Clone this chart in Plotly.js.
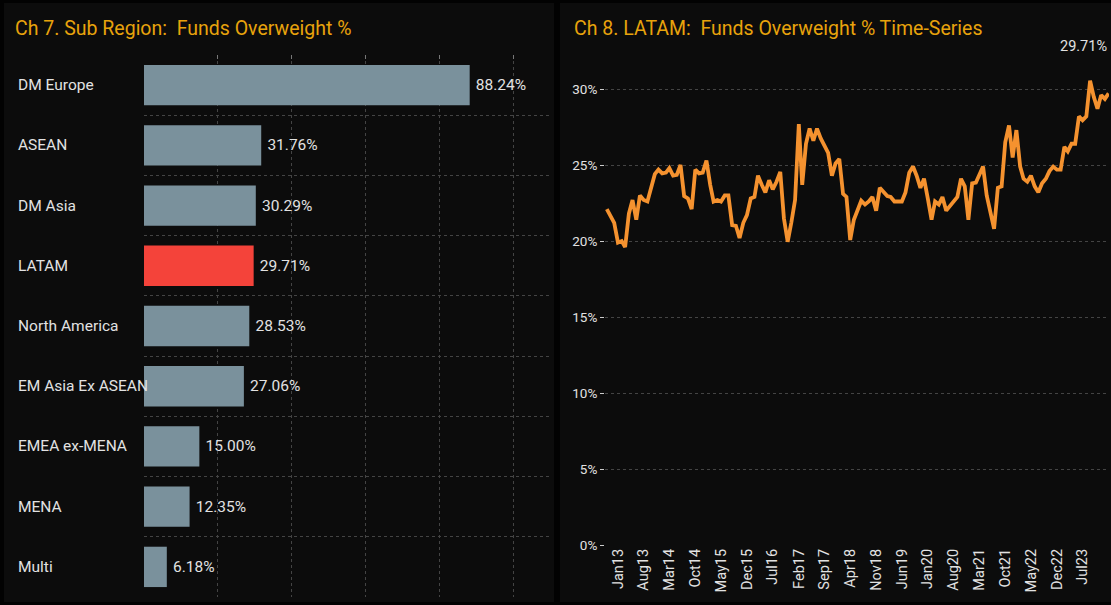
<!DOCTYPE html>
<html>
<head>
<meta charset="utf-8">
<script src="https://cdn.plot.ly/plotly-3.0.1.min.js"></script>
<style>
  html, body { margin: 0; padding: 0; background: #000; }
  #chart { width: 1111px; height: 605px; }
</style>
</head>
<body>
<div id="chart"></div>
<script>
// ---- Data: Ch 7 bar chart ----
const subRegions = ["DM Europe", "ASEAN", "DM Asia", "LATAM", "North America",
                    "EM Asia Ex ASEAN", "EMEA ex-MENA", "MENA", "Multi"];
const overweightPct = [88.24, 31.76, 30.29, 29.71, 28.53, 27.06, 15.00, 12.35, 6.18];
const highlightRegion = "LATAM";

// ---- Data: Ch 8 LATAM time series (monthly, Oct 2012 .. Feb 2024) ----
const seriesStart = [2012, 10]; // year, month of first observation
const latamOverweight = [
  22.1, 21.7, 21.2,                                                   // Oct12-Dec12
  19.9, 20.0, 19.6, 21.8, 22.7, 21.4, 23.0, 22.7, 22.6, 23.6, 24.4, 24.7, // 2013
  24.45, 24.5, 24.8, 24.3, 24.35, 25.0, 22.96, 22.8, 22.1, 24.7, 24.45, 24.5, // 2014
  25.3, 23.7, 22.6, 22.7, 22.6, 23.0, 23.0, 21.05, 21.0, 20.2, 21.2, 21.7, // 2015
  22.8, 22.9, 24.3, 23.7, 23.2, 24.0, 23.4, 23.9, 24.55, 21.5, 19.95, 21.2, // 2016
  22.7, 27.7, 23.7, 26.4, 27.4, 26.6, 27.4, 26.75, 26.2, 25.8, 24.3, 25.1, // 2017
  25.4, 23.1, 22.9, 20.07, 21.4, 22.0, 22.65, 22.4, 22.6, 22.9, 22.0, 23.5, // 2018
  23.2, 22.96, 22.9, 22.6, 22.6, 22.6, 23.2, 24.5, 24.9, 24.3, 23.5, 24.1, // 2019
  22.8, 21.4, 22.6, 22.4, 22.9, 22.0, 22.3, 22.6, 22.9, 24.1, 23.6, 21.4, // 2020
  23.8, 23.85, 24.3, 24.9, 23.0, 21.8, 20.8, 23.5, 23.6, 26.5, 27.6, 25.5, // 2021
  27.3, 24.9, 24.1, 23.9, 24.3, 23.6, 23.2, 23.8, 24.1, 24.6, 24.9, 24.7, // 2022
  24.7, 26.2, 25.9, 26.4, 26.4, 28.2, 27.95, 28.2, 30.55, 29.5, 28.7, 29.6, // 2023
  29.35, 29.71                                                        // Jan24-Feb24
];

// month labels for the series
const seriesDates = latamOverweight.map((_, i) => {
  const total = seriesStart[1] - 1 + i;
  const y = seriesStart[0] + Math.floor(total / 12);
  const m = (total % 12) + 1;
  return y + "-" + String(m).padStart(2, "0") + "-01";
});

// ---- Styling ----
const FONT = "Roboto, 'Noto Sans', 'DejaVu Sans', sans-serif";
const TITLE_COLOR = "#E8A30C";
const TEXT_COLOR = "#E2E2E2";
const GRID = "#444444";
const W = 1111, H = 605;
const px = x => x / W;
const py = y => (H - y) / H;

const barColors = subRegions.map(r => r === highlightRegion ? "#F4433A" : "#7A919C");

const barTrace = {
  type: "bar",
  orientation: "h",
  x: overweightPct,
  y: subRegions,
  xaxis: "x", yaxis: "y",
  marker: { color: barColors },
  width: 0.67,
  text: overweightPct.map(v => "\u2009" + v.toFixed(2) + "%"),
  textposition: "outside",
  textfont: { family: FONT, size: 15.5, color: TEXT_COLOR },
  cliponaxis: false,
  hoverinfo: "skip"
};

const lineTrace = {
  type: "scatter",
  mode: "lines",
  x: seriesDates,
  y: latamOverweight,
  xaxis: "x2", yaxis: "y2",
  line: { color: "#F5922F", width: 3.8 },
  hoverinfo: "skip"
};

const lastIdx = latamOverweight.length - 1;

const annotations = subRegions.map(r => ({
  xref: "paper", yref: "y",
  x: px(15.5), y: r,
  xanchor: "left", yanchor: "middle",
  text: r, showarrow: false,
  font: { family: FONT, size: 15.5, color: TEXT_COLOR }
}));
annotations.push({
  xref: "paper", yref: "paper", x: px(12.5), y: py(28),
  xanchor: "left", yanchor: "middle", showarrow: false,
  text: "Ch 7. Sub Region:  Funds Overweight %",
  font: { family: FONT, size: 19.5, color: TITLE_COLOR }
});
annotations.push({
  xref: "paper", yref: "paper", x: px(571.5), y: py(28),
  xanchor: "left", yanchor: "middle", showarrow: false,
  text: "Ch 8. LATAM:  Funds Overweight % Time-Series",
  font: { family: FONT, size: 19.5, color: TITLE_COLOR }
});
annotations.push({
  xref: "x2", yref: "paper",
  x: seriesDates[lastIdx], y: py(47),
  xanchor: "right", yanchor: "middle", showarrow: false,
  text: latamOverweight[lastIdx].toFixed(2) + "%",
  font: { family: FONT, size: 14.5, color: TEXT_COLOR }
});

const layout = {
  width: W, height: H,
  margin: { l: 0, r: 0, t: 0, b: 0 },
  paper_bgcolor: "#020202",
  plot_bgcolor: "rgba(0,0,0,0)",
  showlegend: false,
  font: { family: FONT, color: TEXT_COLOR },
  shapes: [
    { type: "rect", xref: "paper", yref: "paper", x0: px(4), x1: px(554), y0: py(602), y1: py(3),
      fillcolor: "#0c0c0c", line: { width: 0 }, layer: "below" },
    { type: "rect", xref: "paper", yref: "paper", x0: px(560), x1: 1, y0: py(602), y1: py(3),
      fillcolor: "#0c0c0c", line: { width: 0 }, layer: "below" }
  ],
  xaxis: {
    domain: [px(144), px(550)],
    anchor: "y",
    side: "top",
    range: [0, 110],
    dtick: 20, tick0: 0,
    showticklabels: false,
    ticks: "inside", ticklen: 4, tickcolor: "#777",
    showgrid: true, gridcolor: GRID, griddash: "3px,3px", gridwidth: 1,
    zeroline: false, showline: false, fixedrange: true
  },
  yaxis: {
    domain: [py(597), py(55)],
    anchor: "x",
    type: "category",
    autorange: "reversed",
    tickson: "boundaries",
    showticklabels: false,
    ticks: "",
    showgrid: true, gridcolor: GRID, griddash: "3px,3px", gridwidth: 1,
    zeroline: false, showline: false, fixedrange: true
  },
  xaxis2: {
    domain: [px(605), px(1109)],
    anchor: "y2",
    type: "date",
    range: ["2012-09-16", "2024-02-04"],
    tick0: "2013-01-01", dtick: "M7",
    tickformat: "%b%y",
    tickangle: -90,
    ticks: "",
    tickfont: { family: FONT, size: 14.5, color: TEXT_COLOR },
    showgrid: false, zeroline: false, showline: false, fixedrange: true
  },
  yaxis2: {
    domain: [py(545), py(55)],
    anchor: "x2",
    range: [0, 32.24],
    dtick: 5, tick0: 0,
    ticksuffix: "%",
    ticks: "outside", ticklen: 4, tickcolor: "#cccccc",
    tickfont: { family: FONT, size: 13.5, color: TEXT_COLOR },
    showgrid: true, gridcolor: GRID, griddash: "dot", gridwidth: 1,
    zeroline: false, showline: false, fixedrange: true
  },
  annotations: annotations
};

Plotly.newPlot("chart", [barTrace, lineTrace], layout, { staticPlot: true, displayModeBar: false });
</script>
</body>
</html>
